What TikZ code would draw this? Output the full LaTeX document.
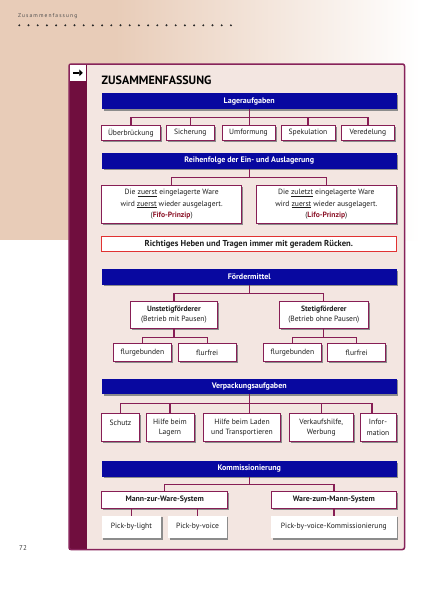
\documentclass[tikz,border=0pt]{standalone}
\usepackage{fontspec}
\setmainfont{PT Sans}
\usetikzlibrary{shadows,arrows.meta}
\definecolor{peach}{RGB}{232,204,184}
\definecolor{innerc}{RGB}{243,230,225}
\definecolor{wine}{RGB}{112,14,62}
\definecolor{framec}{RGB}{135,35,90}
\definecolor{connc}{RGB}{135,30,85}
\definecolor{barblue}{RGB}{8,8,160}
\definecolor{txt}{RGB}{30,30,30}
\definecolor{fifo}{RGB}{140,20,40}
\definecolor{redb}{RGB}{225,50,50}
\tikzset{
  shad/.style={drop shadow={shadow xshift=1.6pt, shadow yshift=-1.6pt, fill=black!45, opacity=1}},
  bar/.style={shad, fill=barblue, text=white, font=\fontsize{8}{9}\selectfont\bfseries,
    minimum width=294.5pt, minimum height=15.5pt, inner sep=0pt},
  box/.style={shad, fill=white, draw=connc, line width=0.9pt, text=txt,
    font=\fontsize{7.6}{10.4}\selectfont, inner sep=0pt, align=center},
  plainbox/.style={shad, fill=white, text=txt, font=\fontsize{7.6}{10}\selectfont, inner sep=0pt},
  link/.style={draw=connc, line width=1.3pt},
}
\begin{document}
\begin{tikzpicture}[x=1pt,y=-1pt]
\useasboundingbox (0,0) rectangle (438,600);
% page background
\fill[white] (0,0) rectangle (438,600);
\fill[peach] (0,0) rectangle (115,240);
\shade[left color=peach, right color=white] (115,0) rectangle (420,240);
% header
\node[anchor=west, inner sep=0pt, font=\fontsize{5.5}{6}\selectfont\addfontfeature{LetterSpace=20}, text=black!70] (hdr) at (18,16) {Zusammenfassung};
\foreach \i in {0,...,23} \fill[black!85] (19.3+9.2*\i,25.3) circle (1.1pt);
\node[font=\fontsize{7}{8}\selectfont, text=black!75] (pg) at (23,548) {72};
% frame
\fill[innerc] (69,64) rectangle (404.5,549.5);
\fill[wine] (69,64) rectangle (87,549.5);
\draw[framec, line width=1.5pt, rounded corners=2pt] (69,64) rectangle (404.5,549.5);
\node[fill=white, minimum width=15.7pt, minimum height=15.7pt, inner sep=0pt] (arr) at (77.85,72.85) {};
\draw[line width=1.6pt, -{Triangle[length=3.6pt,width=6.5pt]}] ([xshift=-5pt]arr.center) -- ([xshift=5pt]arr.center);
\node[anchor=west, inner sep=0pt, font=\fontsize{12}{13}\selectfont\bfseries, text=black] (title) at (101.5,80.5) {ZUSAMMENFASSUNG};

% section 1
\node[bar] (bar1) at (249.25,101.2) {Lageraufgaben};
\node[box, minimum width=58.3pt, minimum height=14.3pt] (b11) at (130.85,132.9) {Überbrückung};
\node[box, minimum width=47.3pt, minimum height=14.3pt] (b12) at (190.35,132.9) {Sicherung};
\node[box, minimum width=53pt, minimum height=14.3pt] (b13) at (248.5,132.9) {Umformung};
\node[box, minimum width=54pt, minimum height=14.3pt] (b14) at (308,132.9) {Spekulation};
\node[box, minimum width=52.3pt, minimum height=14.3pt] (b15) at (367.85,132.9) {Veredelung};
\coordinate (j1) at (249.25,117.3);
\draw[link] (bar1.south) -- (bar1.south |- b13.north);
\draw[link] (b11.north) |- (j1) -| (b15.north);
\draw[link] (b12.north) -- (b12.north |- j1);
\draw[link] (b14.north) -- (b14.north |- j1);

% section 2
\node[bar] (bar2) at (249.25,160.8) {Reihenfolge der Ein- und Auslagerung};
\node[box, font=\fontsize{7.6}{11.5}\selectfont, minimum width=140pt, minimum height=38.3pt] (fifo) at (171.7,204.15)
  {Die \underline{zuerst} eingelagerte Ware\\wird \underline{zuerst} wieder ausgelagert.\\(\textbf{\textcolor{fifo}{Fifo-Prinzip}})};
\node[box, font=\fontsize{7.6}{11.5}\selectfont, minimum width=139.3pt, minimum height=38.3pt] (lifo) at (326.35,204.15)
  {Die \underline{zuletzt} eingelagerte Ware\\wird \underline{zuerst} wieder ausgelagert.\\(\textbf{\textcolor{fifo}{Lifo-Prinzip}})};
\coordinate (j2) at (249.25,177.7);
\draw[link] (bar2.south) -- (j2);
\draw[link] (fifo.north) |- (j2) -| (lifo.north);
\node[draw=redb, line width=0.9pt, fill=white, text=txt, inner sep=0pt,
  font=\fontsize{8.6}{9}\selectfont\bfseries, minimum width=294.3pt, minimum height=15pt] (rule) at (248.85,244.2)
  {Richtiges Heben und Tragen immer mit geradem Rücken.};

% section 3
\node[bar] (bar3) at (249.25,276.8) {Fördermittel};
\node[box, font=\fontsize{7.6}{10}\selectfont, minimum width=87.7pt, minimum height=27.3pt] (u) at (173.85,314.65)
  {\textbf{Unstetigförderer}\\(Betrieb mit Pausen)};
\node[box, font=\fontsize{7.6}{10}\selectfont, minimum width=89pt, minimum height=27.3pt] (st) at (323.8,314.65)
  {\textbf{Stetigförderer}\\(Betrieb ohne Pausen)};
\coordinate (j3) at (249.25,293.3);
\draw[link] (bar3.south) -- (j3);
\draw[link] (u.north) |- (j3) -| (st.north);
\node[box, minimum width=58.4pt, minimum height=18.4pt] (fg1) at (142.5,352.5) {flurgebunden};
\node[box, minimum width=57.7pt, minimum height=18.4pt] (ff1) at (207.15,352.5) {flurfrei};
\node[box, minimum width=58.4pt, minimum height=18.4pt] (fg2) at (292.5,352.5) {flurgebunden};
\node[box, minimum width=58pt, minimum height=18.4pt] (ff2) at (356.7,352.5) {flurfrei};
\coordinate (ju) at (173.85,337.3);
\coordinate (js) at (323.8,337.3);
\draw[link] (u.south) -- (ju);
\draw[link] (fg1.north) |- (ju) -| (ff1.north);
\draw[link] (st.south) -- (js);
\draw[link] (fg2.north) |- (js) -| (ff2.north);

% section 4
\node[bar] (bar4) at (249.25,386.3) {Verpackungsaufgaben};
\node[box, minimum width=37.6pt, minimum height=28.4pt] (s1) at (120.5,427.5) {Schutz\\\phantom{X}};
\node[box, minimum width=48pt, minimum height=28.4pt] (s2) at (170,427.5) {Hilfe beim\\Lagern};
\node[box, minimum width=77.4pt, minimum height=28.4pt] (s3) at (242,427.5) {Hilfe beim Laden\\und Transportieren};
\node[box, minimum width=64pt, minimum height=28.4pt] (s4) at (321.3,427.5) {Verkaufshilfe,\\Werbung};
\node[box, minimum width=36pt, minimum height=28.4pt] (s5) at (378,427.5) {Infor-\\mation};
\coordinate (j4) at (249.25,403.3);
\draw[link] (bar4.south) -- (bar4.south |- s3.north);
\draw[link] (s1.north) |- (j4) -| ([xshift=-6pt]s5.north);
\draw[link] (s2.north) -- (s2.north |- j4);
\draw[link] (s4.north) -- (s4.north |- j4);

% section 5
\node[bar] (bar5) at (249.25,468.8) {Kommissionierung};
\node[box, font=\fontsize{7.8}{9}\selectfont\bfseries, minimum width=126pt, minimum height=16.6pt] (m) at (164.7,500) {Mann-zur-Ware-System};
\node[box, font=\fontsize{7.8}{9}\selectfont\bfseries, minimum width=125.7pt, minimum height=16.6pt] (w) at (333.85,500) {Ware-zum-Mann-System};
\coordinate (j5) at (249.25,484.3);
\draw[link] (bar5.south) -- (j5);
\draw[link] (m.north) |- (j5) -| (w.north);
\node[plainbox, minimum width=59.3pt, minimum height=22.6pt] (pbl) at (131.35,527) {Pick-by-light};
\node[plainbox, minimum width=58.4pt, minimum height=22.6pt] (pbv) at (197.5,527) {Pick-by-voice};
\node[plainbox, minimum width=125.7pt, minimum height=22.6pt] (pbk) at (333.85,527) {Pick-by-voice-Kommissionierung};
\draw[link] (m.south -| pbl.north) -- (pbl.north);
\draw[link] (m.south -| pbv.north) -- (pbv.north);
\draw[link] (w.south) -- (pbk.north);
\end{tikzpicture}
\end{document}
